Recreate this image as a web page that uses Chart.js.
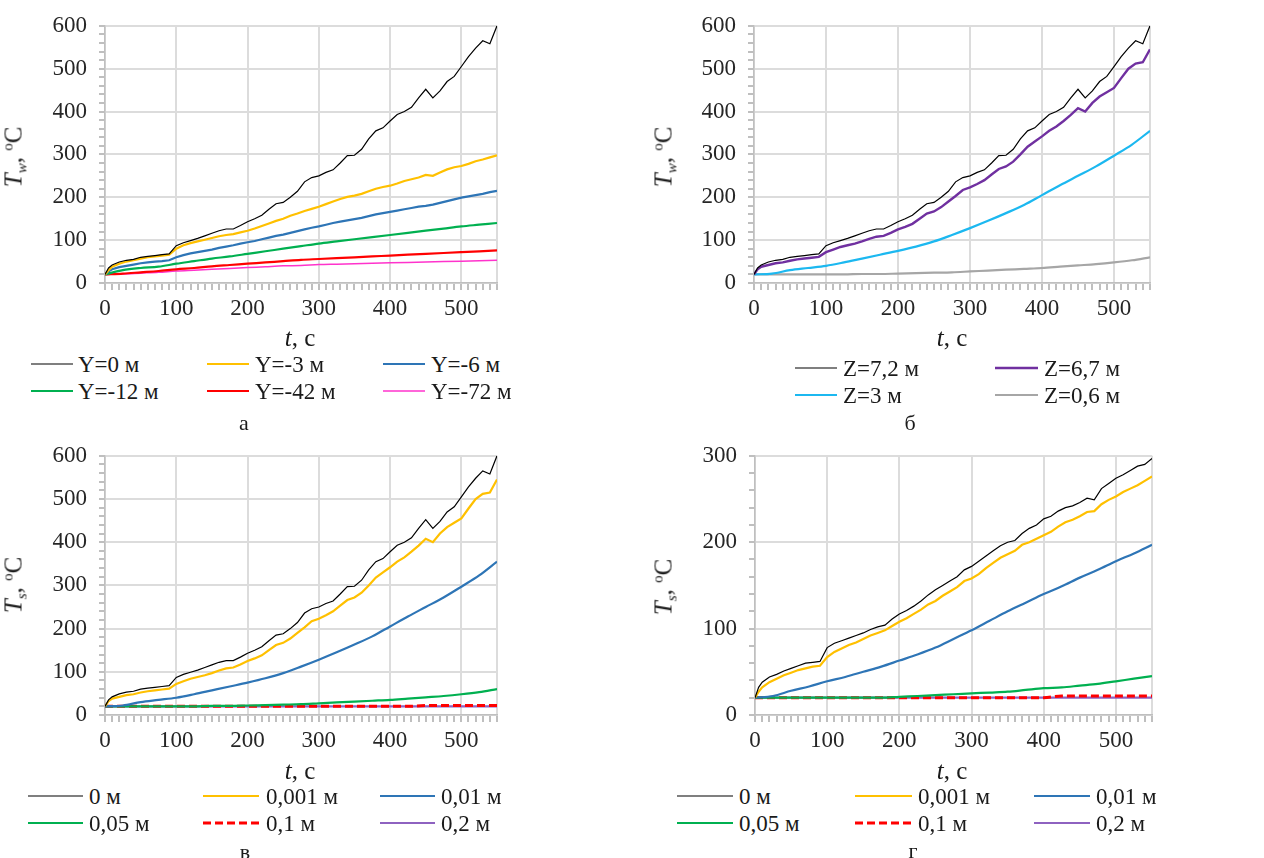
<!DOCTYPE html>
<html>
<head>
<meta charset="utf-8">
<script src="https://cdn.jsdelivr.net/npm/chart.js@4.4.0/dist/chart.umd.min.js"></script>
<style>
body { margin: 0; background: #fff; width: 1264px; height: 858px; position: relative; overflow: hidden;
       font-family: "Liberation Serif", "DejaVu Serif", serif; color: #1a1a1a; }
canvas { position: absolute; }
.lab { position: absolute; white-space: nowrap; font-size: 23px; line-height: 1; }
.ytitle { position: absolute; white-space: nowrap; font-size: 25px; line-height: 1;
          transform: translate(-50%, -50%) rotate(-90deg); }
.xtitle { position: absolute; white-space: nowrap; font-size: 25px; line-height: 1; transform: translate(-50%, -50%); }
.cap { position: absolute; font-size: 22px; line-height: 1; transform: translate(-50%, -50%); }
sub { font-size: 15px; font-style: italic; vertical-align: -5px; }
sup { font-size: 15px; vertical-align: 9px; }
svg { position: absolute; overflow: visible; }
</style>
</head>
<body>
<canvas id="ca"></canvas>
<canvas id="cb"></canvas>
<canvas id="cc"></canvas>
<canvas id="cd"></canvas>
<script>
// time grids, s
var tFine = [0, 5, 10, 20, 30, 40, 50, 60, 70, 80, 90, 100, 110, 120, 130, 140, 150, 160, 170, 180, 190,
    200, 210, 220, 230, 240, 250, 260, 270, 280, 290, 300, 310, 320, 330, 340, 350, 360, 370, 380, 390,
    400, 410, 420, 430, 440, 450, 460, 470, 480, 490, 500, 510, 520, 530, 540, 550];
var tCoarse = [0, 25, 50, 75, 100, 125, 150, 175, 200, 225, 250, 275, 300, 325, 350, 375, 400, 425, 450, 475, 500, 525, 550];

// panel а / б / в — wall and surface temperatures, °C
var yW0 = [20, 35, 42, 49, 53, 55, 60, 62, 64, 66, 68, 87, 94, 99, 104, 110, 116, 122, 126, 126, 134, 143, 150, 158, 172, 185,
    188, 200, 214, 236, 246, 250, 258, 264, 280, 297, 298, 312, 336, 355, 362, 378, 393, 400, 410, 432, 452, 432, 448, 470,
    482, 505, 528, 548, 565, 558, 600];
var yW3 = [20, 30, 38, 45, 50, 53, 57, 60, 62, 64, 66, 80, 88, 93, 97, 101, 105, 109, 112, 114, 118, 122, 127, 133, 139, 145,
    150, 157, 162, 168, 173, 178, 184, 190, 196, 201, 204, 208, 214, 220, 224, 227, 232, 238, 242, 246, 252, 250, 258, 265,
    270, 273, 278, 284, 288, 293, 298];
var yW6 = [20, 27, 32, 37, 40, 43, 46, 48, 50, 51, 53, 60, 65, 69, 72, 75, 78, 82, 85, 88, 92, 95, 98, 102, 106, 110,
    113, 117, 121, 125, 129, 132, 136, 140, 143, 146, 149, 152, 156, 160, 163, 166, 169, 172, 175, 178, 180, 183, 187, 191,
    195, 199, 202, 205, 208, 212, 215];
var yW12 = [20, 30, 35, 38, 45, 51, 57, 62, 68, 74, 80, 86, 92, 97, 102, 107, 112, 117, 122, 127, 132, 136, 140];
var yW42 = [20, 22, 25, 28, 32, 35, 39, 42, 45, 48, 51, 54, 56, 58, 60, 62, 64, 66, 68, 70, 72, 74, 76];
var yW72 = [20, 21, 23, 25, 28, 30, 32, 34, 36, 38, 40, 41, 43, 44, 45, 46, 47, 48, 49, 50, 51, 52, 53];
var yZ67 = [20, 32, 38, 42, 46, 48, 52, 55, 57, 59, 61, 72, 78, 84, 88, 92, 97, 103, 108, 110, 117, 125, 131, 138, 150, 162,
    167, 177, 190, 203, 217, 223, 231, 240, 253, 266, 272, 283, 300, 318, 330, 342, 355, 365, 378, 392, 408, 400, 420, 435,
    445, 455, 478, 500, 512, 515, 545];
var yZ3 = [20, 22, 30, 35, 40, 48, 57, 66, 75, 85, 97, 112, 128, 145, 163, 182, 205, 228, 250, 272, 297, 323, 355];
var yZ06 = [20, 20, 20, 20, 20, 20, 21, 21, 22, 23, 24, 25, 27, 29, 31, 33, 35, 38, 41, 44, 48, 53, 60];
var yV01 = [20, 20, 20, 20, 20, 20, 20, 20, 20, 20, 20, 20, 20, 20, 20, 20, 20, 20, 22, 22, 22, 22, 22];
var yV02 = [20, 20, 20, 20, 20, 20, 20, 20, 20, 20, 20, 20, 20, 20, 20, 20, 20, 20, 20, 20, 20, 20, 20];

// panel г
var yG0 = [20, 32, 38, 44, 47, 51, 54, 57, 60, 61, 62, 78, 83, 86, 89, 92, 95, 99, 102, 104, 111, 117, 121, 126, 132, 139,
    145, 150, 155, 160, 168, 172, 178, 184, 190, 196, 200, 202, 210, 216, 220, 227, 230, 236, 240, 242, 246, 251, 249, 262,
    268, 274, 278, 283, 288, 290, 297];
var yG001 = [20, 27, 32, 38, 42, 46, 49, 52, 54, 56, 57, 67, 73, 77, 81, 84, 88, 92, 95, 98, 103, 108, 112, 117, 122, 128,
    132, 138, 143, 148, 155, 158, 163, 170, 176, 182, 186, 190, 197, 200, 204, 208, 212, 218, 223, 226, 230, 235, 236, 244,
    249, 253, 258, 262, 266, 271, 276];
var yG01 = [20, 22, 28, 33, 39, 44, 50, 56, 63, 70, 78, 88, 98, 109, 120, 130, 140, 149, 159, 168, 178, 187, 197];
var yG005 = [20, 20, 20, 20, 20, 20, 20, 20, 21, 22, 23, 24, 25, 26, 27, 29, 31, 32, 34, 36, 39, 42, 45];
var yG01d = [20, 20, 20, 20, 20, 20, 20, 20, 20, 20, 20, 20, 20, 20, 20, 20, 20, 22, 22, 22, 22, 22, 22];
var yG02 = [20, 20, 20, 20, 20, 20, 20, 20, 20, 20, 20, 20, 20, 20, 20, 20, 20, 20, 20, 20, 20, 20, 20];

var labelsA = ['Y=0 м', 'Y=-3 м', 'Y=-6 м', 'Y=-12 м', 'Y=-42 м', 'Y=-72 м'];
var labelsB = ['Z=7,2 м', 'Z=6,7 м', 'Z=3 м', 'Z=0,6 м'];
var labelsS = ['0 м', '0,001 м', '0,01 м', '0,05 м', '0,1 м', '0,2 м'];

var BLACK = '#000000', GOLD = '#ffc000', BLUE = '#2e75b6', GREEN = '#00b050', RED = '#ff0000',
    PINK = '#ff33cc', PURPLE = '#7030a0', LPURPLE = '#8e62c0', CYAN = '#1cb8f0', GREY = '#a6a6a6';

function S(label, x, y, color, width, dash) {
    return { label: label, x: x, y: y, color: color, width: width, dash: dash || [], smooth: x === tCoarse };
}

var panels = [
    {
        id: 'ca', left: 0, top: 0, w: 520, h: 345, yW: 105, padTop: 17, padRight: 23, xH: 62, yMax: 600,
        ytitle: '<i>T</i><sub>w</sub>, <sup>o</sup>C', yt: [15, 157], xt: [300, 337], cap: ['а', 244, 423],
        series: [
            S(labelsA[0], tFine, yW0, BLACK, 1.2), S(labelsA[1], tFine, yW3, GOLD, 2.2), S(labelsA[2], tFine, yW6, BLUE, 2.2),
            S(labelsA[3], tCoarse, yW12, GREEN, 2.2), S(labelsA[4], tCoarse, yW42, RED, 2.2), S(labelsA[5], tCoarse, yW72, PINK, 1.5)
        ],
        legend: { cols: [[31, 73, 78], [207, 249, 255], [383, 425, 431]], rows: [364, 391] }
    },
    {
        id: 'cb', left: 640, top: 0, w: 540, h: 345, yW: 114, padTop: 17, padRight: 30, xH: 62, yMax: 600,
        ytitle: '<i>T</i><sub>w</sub>, <sup>o</sup>C', yt: [665, 157], xt: [952, 337], cap: ['б', 910, 423],
        series: [
            S(labelsB[0], tFine, yW0, BLACK, 1.2), S(labelsB[1], tFine, yZ67, PURPLE, 2.4),
            S(labelsB[2], tCoarse, yZ3, CYAN, 2.2), S(labelsB[3], tCoarse, yZ06, GREY, 2.2)
        ],
        legend: { cols: [[795, 837, 843], [995, 1038, 1044]], rows: [368, 395] }
    },
    {
        id: 'cc', left: 0, top: 430, w: 520, h: 345, yW: 105, padTop: 19, padRight: 23, xH: 60, yMax: 600,
        ytitle: '<i>T</i><sub>s</sub>, <sup>o</sup>C', yt: [15, 585], xt: [300, 770], cap: ['в', 245, 852],
        series: [
            S(labelsS[0], tFine, yW0, BLACK, 1.2), S(labelsS[1], tFine, yZ67, GOLD, 2.2), S(labelsS[2], tCoarse, yZ3, BLUE, 2.2),
            S(labelsS[3], tCoarse, yZ06, GREEN, 2.2), S(labelsS[4], tCoarse, yV01, RED, 3, [8, 4]), S(labelsS[5], tCoarse, yV02, LPURPLE, 2.2)
        ],
        legend: { cols: [[28, 83, 89], [203, 259, 266], [380, 435, 441]], rows: [796, 823] }
    },
    {
        id: 'cd', left: 640, top: 430, w: 540, h: 345, yW: 115, padTop: 18, padRight: 28, xH: 60, yMax: 300,
        ytitle: '<i>T</i><sub>s</sub>, <sup>o</sup>C', yt: [665, 587], xt: [952, 770], cap: ['г', 913, 851],
        series: [
            S(labelsS[0], tFine, yG0, BLACK, 1.2), S(labelsS[1], tFine, yG001, GOLD, 2.2), S(labelsS[2], tCoarse, yG01, BLUE, 2.2),
            S(labelsS[3], tCoarse, yG005, GREEN, 2.2), S(labelsS[4], tCoarse, yG01d, RED, 3, [8, 4]), S(labelsS[5], tCoarse, yG02, LPURPLE, 2.2)
        ],
        legend: { cols: [[677, 733, 739], [855, 912, 918], [1034, 1090, 1096]], rows: [796, 823] }
    }
];

Chart.defaults.font.family = '"Liberation Serif", "DejaVu Serif", serif';
Chart.defaults.font.size = 23;
Chart.defaults.color = '#262626';

var GRID = '#dcdcdc', AXIS = '#bfbfbf';

function gridColor(ctx) {
    var v = ctx.tick ? ctx.tick.value : 0;
    return (v % 100 === 0 || v === 550) ? GRID : 'rgba(0,0,0,0)';
}

function addEl(tag, cls, html, x, y) {
    var e = document.createElement(tag);
    e.className = cls;
    e.innerHTML = html;
    e.style.left = x + 'px';
    e.style.top = y + 'px';
    document.body.appendChild(e);
    return e;
}

panels.forEach(function (p) {
    var cv = document.getElementById(p.id);
    cv.width = p.w;
    cv.height = p.h;
    cv.style.left = p.left + 'px';
    cv.style.top = p.top + 'px';

    new Chart(cv, {
        type: 'line',
        data: {
            datasets: p.series.map(function (s) {
                return {
                    label: s.label,
                    data: s.x.map(function (t, i) { return { x: t, y: s.y[i] }; }),
                    borderColor: s.color,
                    borderWidth: s.width,
                    borderDash: s.dash,
                    pointRadius: 0,
                    fill: false,
                    tension: 0,
                    cubicInterpolationMode: s.smooth ? 'monotone' : 'default'
                };
            })
        },
        options: {
            responsive: false,
            animation: false,
            layout: { padding: { top: p.padTop, right: p.padRight, left: 0, bottom: 0 } },
            plugins: { legend: { display: false }, tooltip: { enabled: false } },
            scales: {
                x: {
                    type: 'linear', min: 0, max: 550,
                    ticks: {
                        stepSize: 10, autoSkip: false, maxRotation: 0, padding: 5,
                        font: { family: '"Liberation Serif", "DejaVu Serif", serif', size: 23 },
                        callback: function (v) { return v % 100 === 0 ? v : ''; }
                    },
                    grid: { color: gridColor, lineWidth: 2, tickColor: AXIS, tickLength: 7 },
                    border: { color: AXIS, width: 1.5 },
                    afterFit: function (sc) { sc.height = p.xH; }
                },
                y: {
                    min: 0, max: p.yMax,
                    ticks: {
                        stepSize: 20, autoSkip: false, padding: 12,
                        font: { family: '"Liberation Serif", "DejaVu Serif", serif', size: 23 },
                        callback: function (v) { return v % 100 === 0 ? v : ''; }
                    },
                    grid: { color: gridColor, lineWidth: 2, tickColor: AXIS, tickLength: 6 },
                    border: { color: AXIS, width: 1.5 },
                    afterFit: function (sc) { sc.width = p.yW; }
                }
            }
        }
    });

    // axis titles and panel letter
    addEl('div', 'ytitle', p.ytitle, p.yt[0], p.yt[1]);
    addEl('div', 'xtitle', '<i>t</i>, с', p.xt[0], p.xt[1]);
    addEl('div', 'cap', p.cap[0], p.cap[1], p.cap[2]);

    // legend in a fixed column grid, like the spreadsheet original
    var nc = p.legend.cols.length;
    p.series.forEach(function (s, i) {
        var col = p.legend.cols[i % nc];
        var y = p.legend.rows[Math.floor(i / nc)];
        var svg = document.createElementNS('http://www.w3.org/2000/svg', 'svg');
        svg.setAttribute('width', col[1] - col[0]);
        svg.setAttribute('height', 6);
        svg.style.left = col[0] + 'px';
        svg.style.top = (y - 3) + 'px';
        var ln = document.createElementNS('http://www.w3.org/2000/svg', 'line');
        ln.setAttribute('x1', 0);
        ln.setAttribute('x2', col[1] - col[0]);
        ln.setAttribute('y1', 3);
        ln.setAttribute('y2', 3);
        ln.setAttribute('stroke', s.color);
        ln.setAttribute('stroke-width', s.width);
        if (s.dash.length) ln.setAttribute('stroke-dasharray', s.dash.join(' '));
        svg.appendChild(ln);
        document.body.appendChild(svg);
        var t = addEl('div', 'lab', s.label, col[2], y);
        t.style.transform = 'translateY(-50%)';
    });
});
</script>
</body>
</html>
